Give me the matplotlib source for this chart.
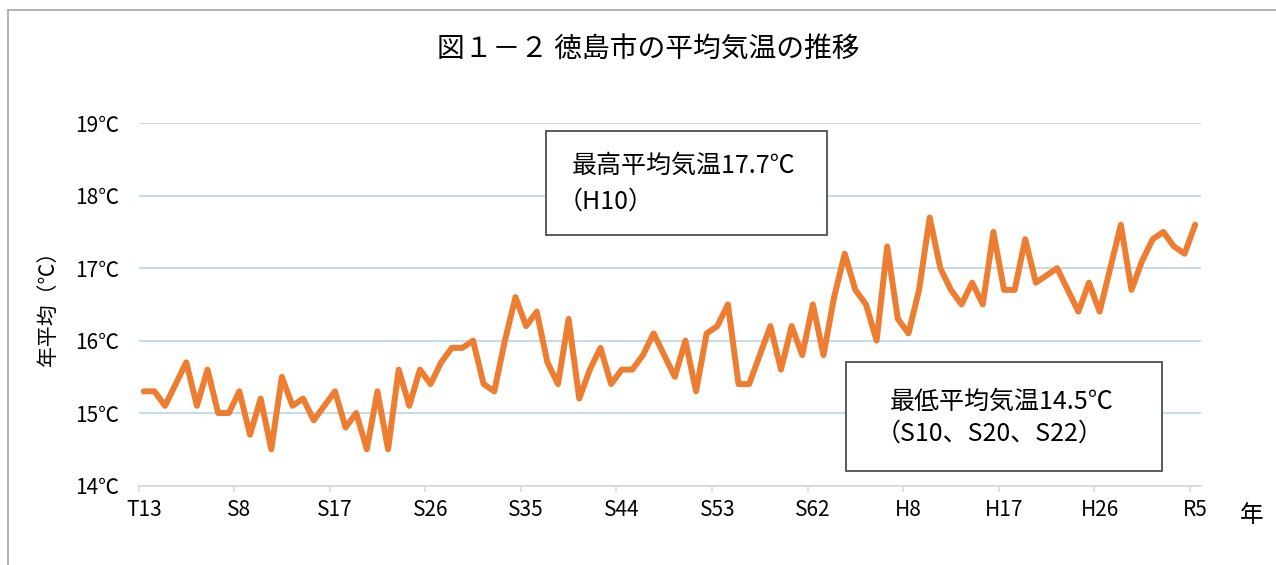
import matplotlib.pyplot as plt
from matplotlib.lines import Line2D
from matplotlib.patches import Rectangle

plt.rcParams['font.family'] = ['Noto Sans CJK JP', 'DejaVu Sans']

# 年平均気温（徳島市） T13(1924) ～ R5(2023)
years = list(range(1924, 2024))
temps = [
    15.3, 15.3, 15.1, 15.4, 15.7, 15.1, 15.6, 15.0, 15.0, 15.3,
    14.7, 15.2, 14.5, 15.5, 15.1, 15.2, 14.9, 15.1, 15.3, 14.8,
    15.0, 14.5, 15.3, 14.5, 15.6, 15.1, 15.6, 15.4, 15.7, 15.9,
    15.9, 16.0, 15.4, 15.3, 16.0, 16.6, 16.2, 16.4, 15.7, 15.4,
    16.3, 15.2, 15.6, 15.9, 15.4, 15.6, 15.6, 15.8, 16.1, 15.8,
    15.5, 16.0, 15.3, 16.1, 16.2, 16.5, 15.4, 15.4, 15.8, 16.2,
    15.6, 16.2, 15.8, 16.5, 15.8, 16.6, 17.2, 16.7, 16.5, 16.0,
    17.3, 16.3, 16.1, 16.7, 17.7, 17.0, 16.7, 16.5, 16.8, 16.5,
    17.5, 16.7, 16.7, 17.4, 16.8, 16.9, 17.0, 16.7, 16.4, 16.8,
    16.4, 17.0, 17.6, 16.7, 17.1, 17.4, 17.5, 17.3, 17.2, 17.6,
]
tick_years = [1924, 1933, 1942, 1951, 1960, 1969, 1978, 1987, 1996, 2005, 2014, 2023]
tick_labels = ['T13', 'S8', 'S17', 'S26', 'S35', 'S44', 'S53', 'S62', 'H8', 'H17', 'H26', 'R5']
y_ticks = [14, 15, 16, 17, 18, 19]

W, H = 1276, 565
fig = plt.figure(figsize=(W / 100, H / 100), dpi=100)
ax = fig.add_axes([138.5 / W, 1 - 485.5 / H, 1062 / W, 362.2 / H])

ax.plot(years, temps, color='#ED7D31', lw=4.3, solid_joinstyle='round',
        solid_capstyle='round', zorder=3)

ax.set_xlim(1923.5, 2023.5)
ax.set_ylim(14, 19)

# y axis
ax.set_yticks(y_ticks)
ax.set_yticklabels([f'{v}℃' for v in y_ticks], fontsize=15)
ax.tick_params(axis='y', length=0, pad=14)
ax.yaxis.grid(True, color='#BDD7EE', lw=1.3)
ax.set_axisbelow(True)

# x axis: ticks at category boundaries, labels on the category
ax.set_xticks([y - 0.5 for y in tick_years])
ax.set_xticklabels([])
ax.set_xticks(tick_years, minor=True)
ax.set_xticklabels(tick_labels, minor=True, fontsize=15)
ax.tick_params(axis='x', which='major', length=4.5, width=1.2, color='#D9D9D9')
ax.tick_params(axis='x', which='minor', length=0, pad=10)

for s in ['top', 'right', 'left']:
    ax.spines[s].set_visible(False)
ax.spines['bottom'].set_color('#D9D9D9')
ax.spines['bottom'].set_linewidth(1.3)
ax.spines['bottom'].set_zorder(2)

# texts
fig.text(648.5 / W, 1 - 50 / H, '図１－２ 徳島市の平均気温の推移', fontsize=20,
         ha='center', va='center')
fig.text(48 / W, 1 - 303 / H, '年平均（℃）', fontsize=15, rotation=90,
         ha='center', va='center')
fig.text(1252 / W, 1 - 515 / H, '年', fontsize=17, ha='center', va='center')

# annotation boxes
fig.add_artist(Rectangle((546 / W, 1 - 235 / H), (827 - 546) / W, (235 - 131) / H,
                         transform=fig.transFigure, fill=True, facecolor='white',
                         edgecolor='#404040', lw=1.2, zorder=5))
fig.text(572 / W, 1 - 166 / H, '最高平均気温17.7℃', fontsize=18, va='center', zorder=6)
fig.text(558 / W, 1 - 202 / H, '（H10）', fontsize=18, va='center', zorder=6)

fig.add_artist(Rectangle((846 / W, 1 - 471 / H), (1162 - 846) / W, (471 - 362) / H,
                         transform=fig.transFigure, fill=True, facecolor='white',
                         edgecolor='#404040', lw=1.2, zorder=5))
fig.text(890 / W, 1 - 402 / H, '最低平均気温14.5℃', fontsize=18, va='center', zorder=6)
fig.text(876 / W, 1 - 434 / H, '（S10、S20、S22）', fontsize=18, va='center', zorder=6)

# outer frame (top and left)
fig.add_artist(Line2D([8 / W, 8 / W], [0, 1 - 10 / H], color='#A6A6A6', lw=1.2))
fig.add_artist(Line2D([8 / W, 1], [1 - 10 / H, 1 - 10 / H], color='#A6A6A6', lw=1.2))

fig.savefig('out.png', dpi=100)
